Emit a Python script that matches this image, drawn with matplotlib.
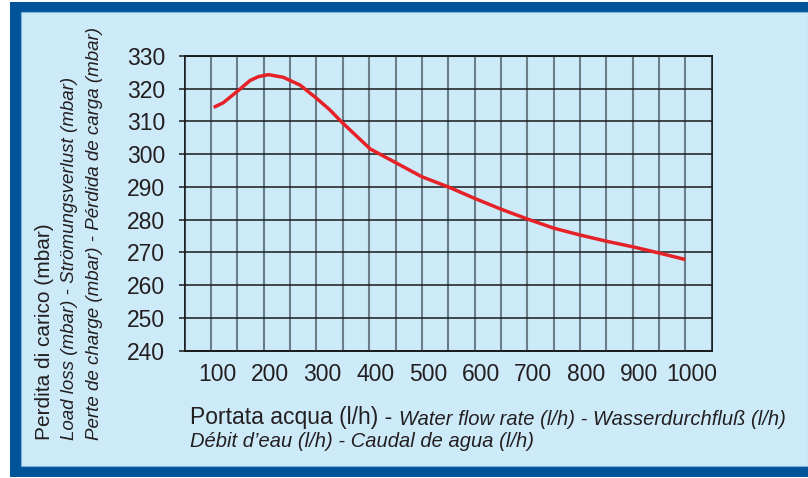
import matplotlib
matplotlib.use("Agg")
import matplotlib.pyplot as plt
from matplotlib.patches import Rectangle
from matplotlib.transforms import ScaledTranslation

# Data
flow = [105, 123, 149, 174, 190, 209, 237, 269, 300, 325, 348, 375, 402,
        440, 500, 550, 600, 650, 700, 750, 800, 850, 900, 950, 1000]
loss = [314.3, 315.7, 319.1, 322.5, 323.7, 324.3, 323.5, 321.1, 317.1, 313.6,
        309.8, 305.7, 301.6, 298.3, 293.1, 290.0, 286.5, 283.2, 280.2, 277.4,
        275.3, 273.4, 271.7, 269.8, 267.8]

x_labels = [100, 200, 300, 400, 500, 600, 700, 800, 900, 1000]
y_ticks = [240, 250, 260, 270, 280, 290, 300, 310, 320, 330]

BG = "#cdeaf9"
BORDER = "#00559a"
TXT = "#231f20"
FONT = "Liberation Sans"

W, H = 808, 478
fig = plt.figure(figsize=(W / 100, H / 100), dpi=100, facecolor="white")

# Border and panel
fig.patches.append(Rectangle((10 / W, 1 - 477 / H), (W - 10) / W, 475 / H,
                             transform=fig.transFigure, facecolor=BORDER,
                             edgecolor="none", zorder=-10))
fig.patches.append(Rectangle((21 / W, 1 - 466 / H), (W - 21) / W, 454 / H,
                             transform=fig.transFigure, facecolor=BG,
                             edgecolor="#7fb2d8", linewidth=0.8, zorder=-9))

ax = fig.add_axes([184.7 / W, 1 - 350.5 / H, 527 / W, 294.5 / H])
ax.set_zorder(5)
ax.set_facecolor(BG)
ax.plot(flow, loss, color="#e42228", linewidth=2.5, solid_capstyle="butt",
        solid_joinstyle="round", zorder=5)

ax.set_xlim(50, 1050)
ax.set_ylim(240, 330)
ax.set_xticks(x_labels)
ax.set_xticks([50 + 100 * i for i in range(11)], minor=True)
ax.set_yticks(y_ticks)

ax.grid(True, which="both", axis="x", color="#4a5a63", alpha=0.75, linewidth=1.5)
ax.grid(True, which="major", axis="y", color="#1a1a1a", linewidth=1.1)
ax.set_axisbelow(False)

for s in ax.spines.values():
    s.set_color("#1a1a1a")
    s.set_linewidth(1.4)

ax.tick_params(axis="x", which="both", length=0, pad=9, labelsize=16.5, labelcolor=TXT)
ax.tick_params(axis="y", which="major", length=4, width=1.1, color="#1a1a1a",
               pad=10, labelsize=16.5, labelcolor=TXT, direction="out")
shift = ScaledTranslation(6 / 100, 0, fig.dpi_scale_trans)
for lab in ax.get_xticklabels():
    lab.set_fontfamily(FONT)
    lab.set_transform(lab.get_transform() + shift)
for lab in ax.get_yticklabels():
    lab.set_fontfamily(FONT)

# Y axis labels (three lines)
fig.text(45 / W, 1 - 440 / H, "Perdita di carico (mbar)", rotation=90,
         ha="center", va="bottom", fontsize=15, color=TXT, fontfamily=FONT)
fig.text(70 / W, 1 - 440 / H, "Load loss (mbar) - Strömungsverlust (mbar)",
         rotation=90, ha="center", va="bottom", fontsize=13.5, color=TXT,
         fontfamily=FONT, style="italic")
fig.text(95 / W, 1 - 440 / H, "Perte de charge (mbar) - Pérdida de carga (mbar)",
         rotation=90, ha="center", va="bottom", fontsize=13.5, color=TXT,
         fontfamily=FONT, style="italic")

# X axis labels
t1 = fig.text(190 / W, 1 - 429 / H, "Portata acqua (l/h) - ", ha="left",
              va="bottom", fontsize=16.5, color=TXT, fontfamily=FONT)
ax.annotate("Water flow rate (l/h) - Wasserdurchfluß (l/h)", xy=(1, 0),
            xycoords=t1, ha="left", va="bottom", fontsize=14.5, color=TXT,
            fontfamily=FONT, style="italic", annotation_clip=False)
fig.text(190 / W, 1 - 451 / H, "Débit d’eau (l/h) - Caudal de agua (l/h)",
         ha="left", va="bottom", fontsize=14.5, color=TXT, fontfamily=FONT,
         style="italic")

fig.savefig("out.png", dpi=100, facecolor="white")
